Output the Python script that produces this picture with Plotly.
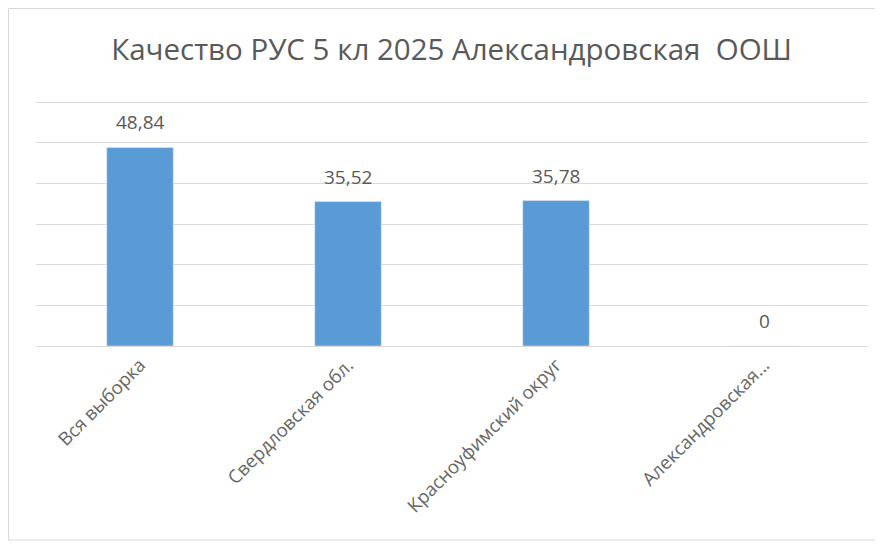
import plotly.graph_objects as go

categories = ["Вся выборка", "Свердловская обл.", "Красноуфимский округ", "Александровская..."]
values = [48.84, 35.52, 35.78, 0]
labels = ["48,84", "35,52", "35,78", "0"]
title_text = "Качество РУС 5 кл 2025 Александровская  ООШ"

# page has an 8px body margin, so figure is 8px smaller
W, H = 875, 537
ml, mr, mt, mb = 28, 15, 90, 199
pw = W - ml - mr
ph = H - mt - mb

fig = go.Figure(go.Bar(
    x=categories, y=values,
    marker=dict(color="#5b9bd5"), cliponaxis=False,
))

for c, v, t in zip(categories, values, labels):
    fig.add_annotation(x=c, y=v, text=t, showarrow=False, yanchor="bottom", yshift=10,
                       font=dict(color="#595959", size=19, family="Open Sans"))

def px_x(p):
    return (p - ml) / pw

def px_y(p):
    return (H - mb - p) / ph

fig.update_layout(
    width=W, height=H,
    margin=dict(l=ml, r=mr, t=mt, b=mb, autoexpand=False),
    paper_bgcolor="white", plot_bgcolor="white",
    bargap=0.68,
    showlegend=False,
    title=dict(text=title_text, x=0.507, xanchor="center", y=1 - 42 / H, yanchor="middle",
               font=dict(family="Open Sans", size=29.5, color="#595959")),
    font=dict(family="Open Sans", color="#595959"),
    xaxis=dict(tickangle=-45, tickfont=dict(size=18.5, color="#666666"), showline=True,
               linecolor="#d9d9d9", linewidth=1, ticks="", automargin=False),
    yaxis=dict(range=[0, 61], tickvals=[10, 20, 30, 40, 50, 60], showticklabels=False,
               gridcolor="#d9d9d9", gridwidth=1, zeroline=False, showline=False, automargin=False),
    shapes=[dict(type="rect", xref="paper", yref="paper",
                 x0=px_x(0.5), x1=px_x(W + 2), y0=px_y(H - 5), y1=px_y(0.5),
                 line=dict(color="#d9d9d9", width=1), layer="below")],
)

fig.write_html("out.html")
